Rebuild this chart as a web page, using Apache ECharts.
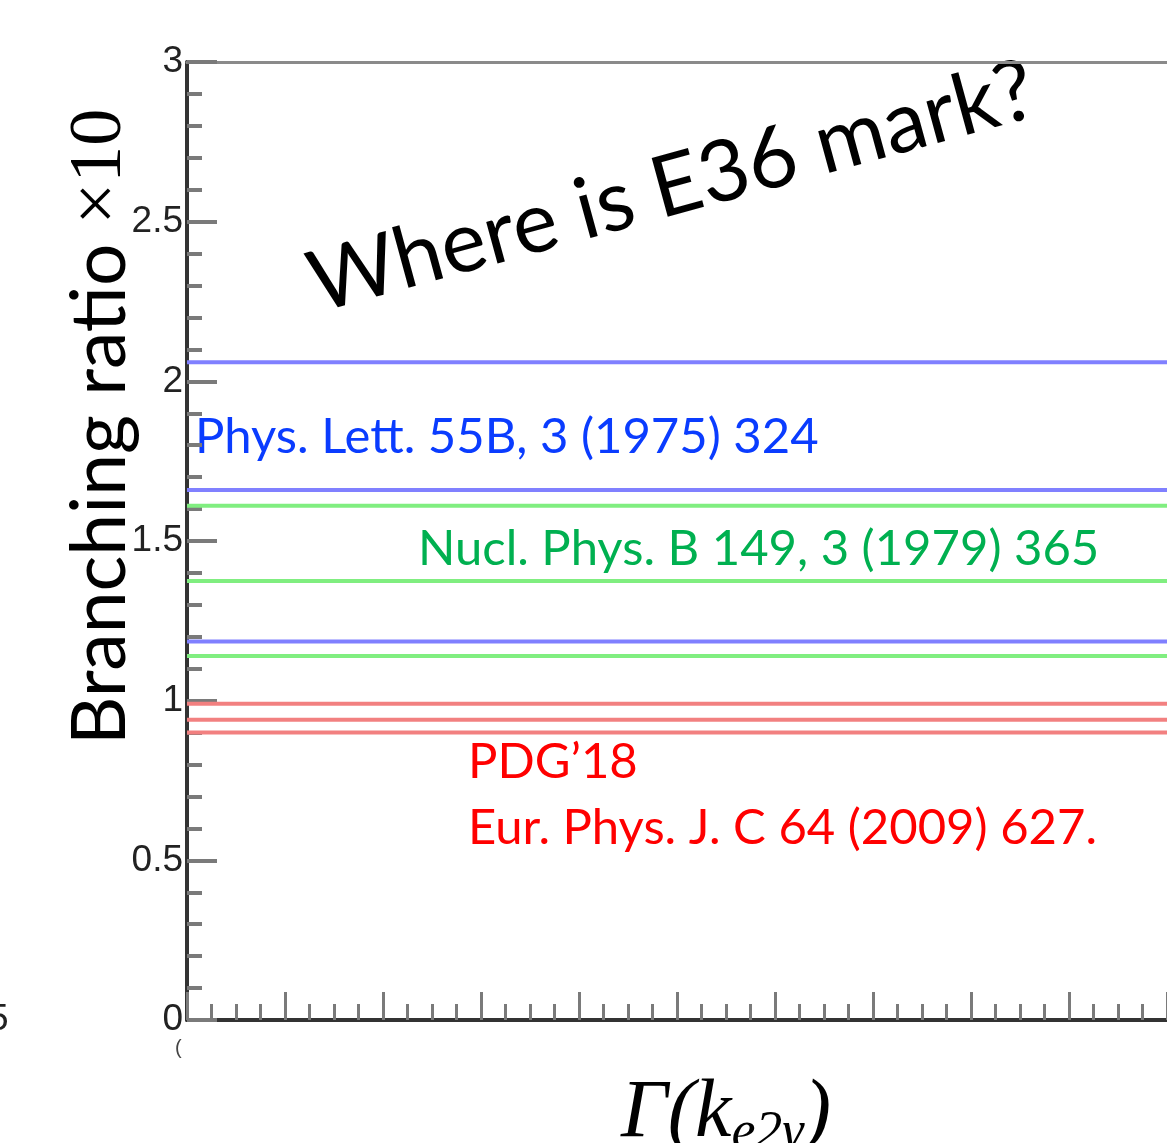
<!DOCTYPE html>
<html><head><meta charset="utf-8">
<script src="https://cdn.jsdelivr.net/npm/echarts@6/dist/echarts.min.js"></script>
<style>html,body{margin:0;padding:0;background:#fff}#c{width:1167px;height:1143px}</style>
</head><body><div id="c"></div>
<script>
// Horizontal reference levels (branching ratio ×10^-5)
var blueLevels = [2.06, 1.66, 1.185];   // Phys. Lett. 55B, 3 (1975) 324
var greenLevels = [1.61, 1.375, 1.14];  // Nucl. Phys. B 149, 3 (1979) 365
var redLevels = [0.99, 0.94, 0.90];     // PDG'18 / Eur. Phys. J. C 64 (2009) 627.
var xRange = [0, 10];
var yTicks = [0, 0.5, 1, 1.5, 2, 2.5, 3];

var blueLabel = 'Phys. Lett. 55B, 3 (1975) 324';
var greenLabel = 'Nucl. Phys. B 149, 3 (1979) 365';
var redLabel1 = 'PDG\u201918';
var redLabel2 = 'Eur. Phys. J. C 64 (2009) 627.';
var title = 'Where is E36 mark?';

function levelSeries(vals, color) {
  return vals.map(function (v) {
    return {
      type: 'line', silent: true, symbol: 'none', animation: false,
      data: [[xRange[0], v], [xRange[1], v]],
      lineStyle: { color: color, width: 4 }
    };
  });
}

var chart = echarts.init(document.getElementById('c'));
var option = {
  backgroundColor: '#fff',
  animation: false,
  grid: { left: 187, right: -25, top: 62, bottom: 123 },
  xAxis: [{
    type: 'value', min: xRange[0], max: xRange[1], interval: 1,
    axisLine: { show: true, onZero: false, lineStyle: { color: '#333', width: 4 } },
    axisTick: { show: true, inside: true, length: 28, lineStyle: { color: '#7a7a7a', width: 3 } },
    minorTick: { show: true, splitNumber: 4, length: 16, lineStyle: { color: '#7a7a7a', width: 3 } },
    axisLabel: { show: false },
    splitLine: { show: false }
  }, {
    type: 'value', position: 'top', min: xRange[0], max: xRange[1],
    axisLine: { show: true, onZero: false, lineStyle: { color: '#8a8a8a', width: 3 } },
    axisTick: { show: false }, axisLabel: { show: false }, splitLine: { show: false }
  }],
  yAxis: {
    type: 'value', min: yTicks[0], max: yTicks[yTicks.length - 1], interval: 0.5,
    axisLine: { show: true, onZero: false, lineStyle: { color: '#333', width: 4 } },
    axisTick: { show: true, inside: true, length: 30, lineStyle: { color: '#7a7a7a', width: 4 } },
    minorTick: { show: true, splitNumber: 5, length: 15, lineStyle: { color: '#7a7a7a', width: 4 } },
    axisLabel: { show: true, margin: 4, color: '#222', fontFamily: 'Liberation Sans', fontSize: 37,
      formatter: function (v) { return String(v); } },
    splitLine: { show: false }
  },
  series: [].concat(
    levelSeries(blueLevels, 'rgb(128,128,255)'),
    levelSeries(greenLevels, 'rgb(128,238,128)'),
    levelSeries(redLevels, 'rgb(242,128,128)')
  ),
  graphic: [
    { type: 'text', x: 195, y: 437, style: { text: blueLabel, fill: '#0a3cff', font: '49px Lato', textVerticalAlign: 'middle' } },
    { type: 'text', x: 418, y: 549, style: { text: greenLabel, fill: '#00b050', font: '49px Lato', textVerticalAlign: 'middle' } },
    { type: 'text', x: 468, y: 762, style: { text: redLabel1, fill: '#ff0000', font: '49px Lato', textVerticalAlign: 'middle' } },
    { type: 'text', x: 468, y: 828, style: { text: redLabel2, fill: '#ff0000', font: '49px Lato', textVerticalAlign: 'middle' } },
    { type: 'text', x: 311, y: 286, rotation: 15.3 * Math.PI / 180,
      style: { text: title, fill: '#000', font: '85px Lato', textAlign: 'left', textVerticalAlign: 'middle' } },
    { type: 'text', x: 101, y: 745, rotation: Math.PI / 2,
      style: { text: '{a|Branching ratio }{b|\u00d710}', textAlign: 'left', textVerticalAlign: 'middle',
        rich: { a: { font: '75px Lato', fill: '#000' }, b: { font: '74px "Liberation Serif"', fill: '#000' } } } },
    { type: 'text', x: 726, y: 1114,
      style: { text: '{g|\u0393(k}{s|e2\u03b3}{g|)}', textAlign: 'center', textVerticalAlign: 'middle',
        rich: { g: { font: 'italic 82px "Liberation Serif"', fill: '#000' },
                s: { font: 'italic 54px "Liberation Serif"', fill: '#000', padding: [40, 0, 0, 0] } } } },
    { type: 'text', x: -12, y: 1020, style: { text: '5', fill: '#222', font: '37px "Liberation Sans"', textVerticalAlign: 'middle' } },
    { type: 'text', x: 175, y: 1048, style: { text: '(', fill: '#444', font: '20px "Liberation Sans"', textVerticalAlign: 'middle' } }
  ]
};
chart.setOption(option);
</script></body></html>
